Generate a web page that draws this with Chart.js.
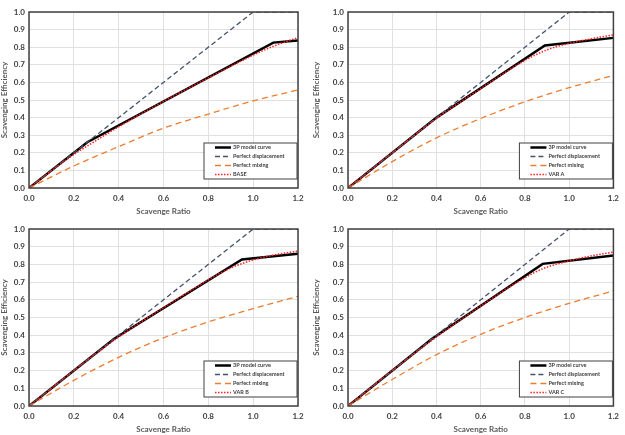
<!DOCTYPE html>
<html>
<head>
<meta charset="utf-8">
<script src="https://cdn.jsdelivr.net/npm/chart.js@4"></script>
<style>
  html, body { margin: 0; padding: 0; background: #fff; }
  .panel { position: absolute; }
</style>
</head>
<body>
<div class="panel" style="left:0;top:0"><canvas id="c0" width="312" height="217"></canvas></div>
<div class="panel" style="left:312px;top:0"><canvas id="c1" width="313" height="217"></canvas></div>
<div class="panel" style="left:0;top:217px"><canvas id="c2" width="312" height="218"></canvas></div>
<div class="panel" style="left:312px;top:217px"><canvas id="c3" width="313" height="218"></canvas></div>
<script>
// case names
const caseNames = ['BASE', 'VAR A', 'VAR B', 'VAR C'];

// perfect displacement (same on every panel)
const dispX = [0, 1.0, 1.2];
const dispY = [0, 1.0, 1.0];

// perfect mixing, read at these scavenge ratios
const mixX = [0, 0.2, 0.4, 0.6, 0.8, 1.0, 1.2];
const mixBase = [0, 0.125, 0.235, 0.34, 0.42, 0.495, 0.557];
const mixA = [0, 0.15, 0.285, 0.395, 0.49, 0.57, 0.64];
const mixB = [0, 0.145, 0.275, 0.385, 0.475, 0.55, 0.62];
const mixC = [0, 0.15, 0.29, 0.405, 0.5, 0.58, 0.65];

// 3P model curve (piecewise)
const modelBaseX = [0, 0.26, 1.09, 1.2];
const modelBaseY = [0, 0.26, 0.826, 0.838];
const modelAX = [0, 0.4, 0.89, 1.2];
const modelAY = [0, 0.4, 0.81, 0.853];
const modelBX = [0, 0.38, 0.95, 1.2];
const modelBY = [0, 0.38, 0.828, 0.86];
const modelCX = [0, 0.38, 0.88, 1.2];
const modelCY = [0, 0.38, 0.803, 0.85];

// case results (dotted red)
const caseBaseX = [0, 0.1, 0.2, 0.3, 0.4, 0.6, 0.8, 1.0, 1.1, 1.2];
const caseBaseY = [0, 0.098, 0.19, 0.27, 0.348, 0.492, 0.625, 0.755, 0.81, 0.855];
const caseAX = [0, 0.2, 0.4, 0.6, 0.8, 0.9, 1.0, 1.1, 1.2];
const caseAY = [0, 0.2, 0.395, 0.565, 0.725, 0.785, 0.822, 0.848, 0.87];
const caseBX = [0, 0.2, 0.4, 0.6, 0.8, 0.9, 1.0, 1.1, 1.2];
const caseBY = [0, 0.2, 0.39, 0.555, 0.712, 0.78, 0.825, 0.855, 0.875];
const caseCX = [0, 0.2, 0.4, 0.6, 0.8, 0.88, 1.0, 1.1, 1.2];
const caseCY = [0, 0.2, 0.39, 0.565, 0.725, 0.775, 0.82, 0.848, 0.87];

const mixSets = [mixBase, mixA, mixB, mixC];
const modelSets = [[modelBaseX, modelBaseY], [modelAX, modelAY], [modelBX, modelBY], [modelCX, modelCY]];
const caseSets = [[caseBaseX, caseBaseY], [caseAX, caseAY], [caseBX, caseBY], [caseCX, caseCY]];

function pts(xs, ys) {
  return xs.map((x, i) => ({ x: x, y: ys[i] }));
}

const FONT = 'Lato, "Open Sans", sans-serif';

// frame round the plot area + legend box inside it
const framePlugin = {
  id: 'frame',
  afterDatasetsDraw(chart) {
    const ctx = chart.ctx;
    const ca = chart.chartArea;
    ctx.save();
    ctx.strokeStyle = '#404040';
    ctx.lineWidth = 1.5;
    ctx.strokeRect(ca.left, ca.top, ca.right - ca.left, ca.bottom - ca.top);

    const w = 93, h = 36;
    const bx = ca.right - 1 - w;
    const by = ca.bottom - 9 - h;
    ctx.fillStyle = '#fff';
    ctx.fillRect(bx, by, w, h);
    ctx.strokeStyle = '#404040';
    ctx.lineWidth = 1;
    ctx.strokeRect(bx, by, w, h);

    ctx.font = 'bold 5.5px ' + FONT;
    ctx.textBaseline = 'middle';
    chart.data.datasets.forEach((ds, i) => {
      const y = by + 4.5 + i * 9;
      ctx.beginPath();
      ctx.setLineDash(ds.borderDash || []);
      ctx.strokeStyle = ds.borderColor;
      ctx.lineWidth = ds.borderWidth;
      ctx.moveTo(bx + 11, y);
      ctx.lineTo(bx + 27, y);
      ctx.stroke();
      ctx.setLineDash([]);
      ctx.fillStyle = '#404040';
      ctx.fillText(ds.label, bx + 29, y);
    });
    ctx.restore();
  }
};

caseNames.forEach((name, k) => {
  const left = k % 2 === 0;
  new Chart(document.getElementById('c' + k), {
    type: 'line',
    data: {
      datasets: [
        {
          label: '3P model curve',
          data: pts(modelSets[k][0], modelSets[k][1]),
          borderColor: '#000000',
          borderWidth: 2.5,
          pointRadius: 0,
          order: 3
        },
        {
          label: 'Perfect displacement',
          data: pts(dispX, dispY),
          borderColor: '#44546a',
          borderWidth: 1.3,
          borderDash: [5, 3],
          pointRadius: 0,
          order: 2
        },
        {
          label: 'Perfect mixing',
          data: pts(mixX, mixSets[k]),
          borderColor: '#ed7d31',
          borderWidth: 1.3,
          borderDash: [6, 4],
          pointRadius: 0,
          cubicInterpolationMode: 'monotone',
          order: 1
        },
        {
          label: name,
          data: pts(caseSets[k][0], caseSets[k][1]),
          borderColor: '#ff2020',
          borderWidth: 1.5,
          borderDash: [1.5, 1.5],
          pointRadius: 0,
          cubicInterpolationMode: 'monotone',
          order: 0
        }
      ]
    },
    options: {
      responsive: false,
      animation: false,
      layout: { padding: { top: 12, right: left ? 14 : 9, left: 0, bottom: 0 } },
      plugins: {
        legend: { display: false },
        tooltip: { enabled: false }
      },
      scales: {
        x: {
          type: 'linear',
          min: 0,
          max: 1.2,
          afterFit: s => { s.height = 29; },
          ticks: {
            stepSize: 0.2,
            padding: 6,
            color: '#404040',
            font: { family: FONT, size: 8, weight: 'bold' },
            callback: v => v.toFixed(1)
          },
          grid: { color: '#e0e0e0', drawTicks: false },
          border: { display: false },
          title: {
            display: true,
            text: 'Scavenge Ratio',
            color: '#595959',
            padding: { top: 0, bottom: 1 },
            font: { family: FONT, size: 8, weight: 'bold' }
          }
        },
        y: {
          min: 0,
          max: 1,
          afterFit: s => { s.width = left ? 29 : 36; },
          ticks: {
            stepSize: 0.1,
            padding: 4,
            color: '#404040',
            font: { family: FONT, size: 8, weight: 'bold' },
            callback: v => v.toFixed(1)
          },
          grid: { color: '#e0e0e0', drawTicks: false },
          border: { display: false },
          title: {
            display: true,
            text: 'Scavenging Efficiency',
            color: '#595959',
            padding: { top: 0, bottom: 0 },
            font: { family: FONT, size: 8, weight: 'bold' }
          }
        }
      }
    },
    plugins: [framePlugin]
  });
});
</script>
</body>
</html>
